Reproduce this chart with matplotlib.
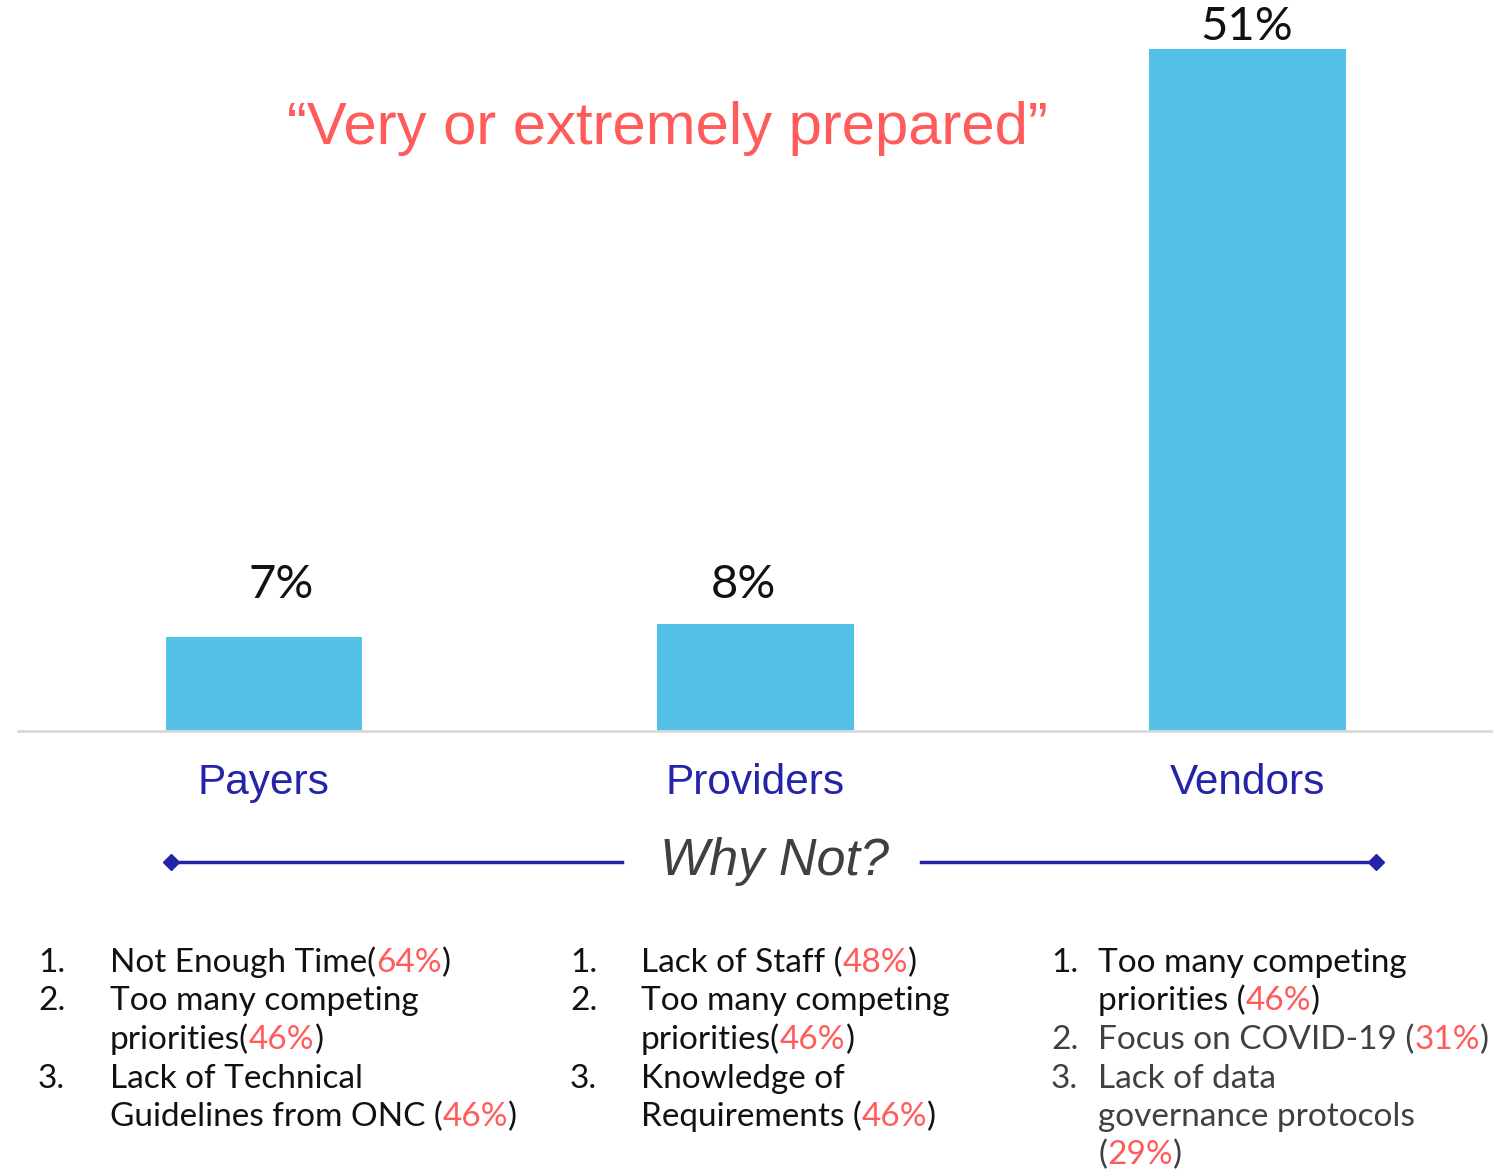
import matplotlib
matplotlib.use("Agg")
import matplotlib.pyplot as plt
from matplotlib.lines import Line2D

# --- data ---
groups = ["Payers", "Providers", "Vendors"]
prepared_pct = [7, 8, 51]

payer_reasons = ["Not Enough Time", "Too many competing\npriorities", "Lack of Technical\nGuidelines from ONC "]
payer_pcts = [64, 46, 46]
provider_reasons = ["Lack of Staff ", "Too many competing\npriorities", "Knowledge of\nRequirements "]
provider_pcts = [48, 46, 46]
vendor_reasons = ["Too many competing\npriorities ", "Focus on COVID-19 ", "Lack of data\ngovernance protocols\n"]
vendor_pcts = [46, 31, 29]

# --- colours / fonts ---
BAR = "#56C1E7"
NAVY = "#2424A8"
CORAL = "#FF5B5B"
LIST_FONT = "Lato"

W, H = 1493, 1170
fig = plt.figure(figsize=(W / 100, H / 100), dpi=100)


def px(x, y):
    return x / W, 1 - y / H


# main bar axes: baseline at y=731 px, 51% at y=49 px
ax = fig.add_axes([18 / W, (H - 731) / H, (W - 18) / W, (731 - 49) / H])
x = list(range(len(groups)))
ax.bar(x, prepared_pct, width=0.4, color=BAR, zorder=2)
ax.set_xlim(-0.5, 2.5)
ax.set_ylim(0, 51)
for s in ["top", "right", "left"]:
    ax.spines[s].set_visible(False)
ax.spines["bottom"].set_color("#D9D9D9")
ax.spines["bottom"].set_linewidth(2)
ax.set_yticks([])
ax.set_xticks(x)
ax.set_xticklabels(groups, fontsize=30.5, color=NAVY, family="Liberation Sans")
ax.tick_params(axis="x", length=0, pad=23)

# value labels (label placement as in the original slide)
label_dx = [17, -12, 0]     # px
label_gap = [31, 18, 1]     # px above bar top
for xi, v, dx, gap in zip(x, prepared_pct, label_dx, label_gap):
    ax.annotate(f"{v}%", xy=(xi, v), xytext=(dx * 0.72, gap * 0.72), textcoords="offset points",
                ha="center", va="bottom", fontsize=34, family=LIST_FONT,
                color="#111111", annotation_clip=False)

# title
fig.text(*px(667, 128), "\u201cVery or extremely prepared\u201d", ha="center", va="center",
         fontsize=43, color=CORAL, family="Liberation Sans")

# "Why Not?" with arrows
fig.text(*px(774, 862), "Why Not?", ha="center", va="center", fontsize=37.5,
         style="italic", color="#404040", family="Liberation Sans")
for xs in [(171, 622), (921, 1376)]:
    fig.add_artist(Line2D([xs[0] / W, xs[1] / W], [1 - 862 / H] * 2, color=NAVY, lw=2.5))
for xd in [171, 1376]:
    fig.add_artist(Line2D([xd / W], [1 - 862 / H], marker="D", color=NAVY, ms=8))

renderer = fig.canvas.get_renderer()


def draw_list(reasons, pcts, num_x, text_x, colors, fontsize=24):
    row_y0, step = 961, 38.5
    row = 0
    for i, (reason, pct, col) in enumerate(zip(reasons, pcts, colors)):
        base = row_y0 + row * step + 11
        fig.text(*px(num_x, base), f"{i + 1}.", ha="left", va="baseline",
                 fontsize=fontsize, color=col, family=LIST_FONT)
        lines = reason.split("\n")
        for ln in lines[:-1]:
            fig.text(*px(text_x, row_y0 + row * step + 11), ln, ha="left", va="baseline",
                     fontsize=fontsize, color=col, family=LIST_FONT)
            row += 1
        y = row_y0 + row * step + 11
        xx = text_x
        for piece, c in [(lines[-1] + "(", col), (f"{pct}%", CORAL), (")", col)]:
            t = fig.text(*px(xx, y), piece, ha="left", va="baseline",
                         fontsize=fontsize, color=c, family=LIST_FONT)
            xx += t.get_window_extent(renderer=renderer).width
        row += 1


draw_list(payer_reasons, payer_pcts, 38, 110, ["#111111"] * 3)
draw_list(provider_reasons, provider_pcts, 570, 641, ["#111111"] * 3)
draw_list(vendor_reasons, vendor_pcts, 1051, 1098, ["#111111", "#404040", "#404040"])

fig.savefig("out.png", dpi=100)
